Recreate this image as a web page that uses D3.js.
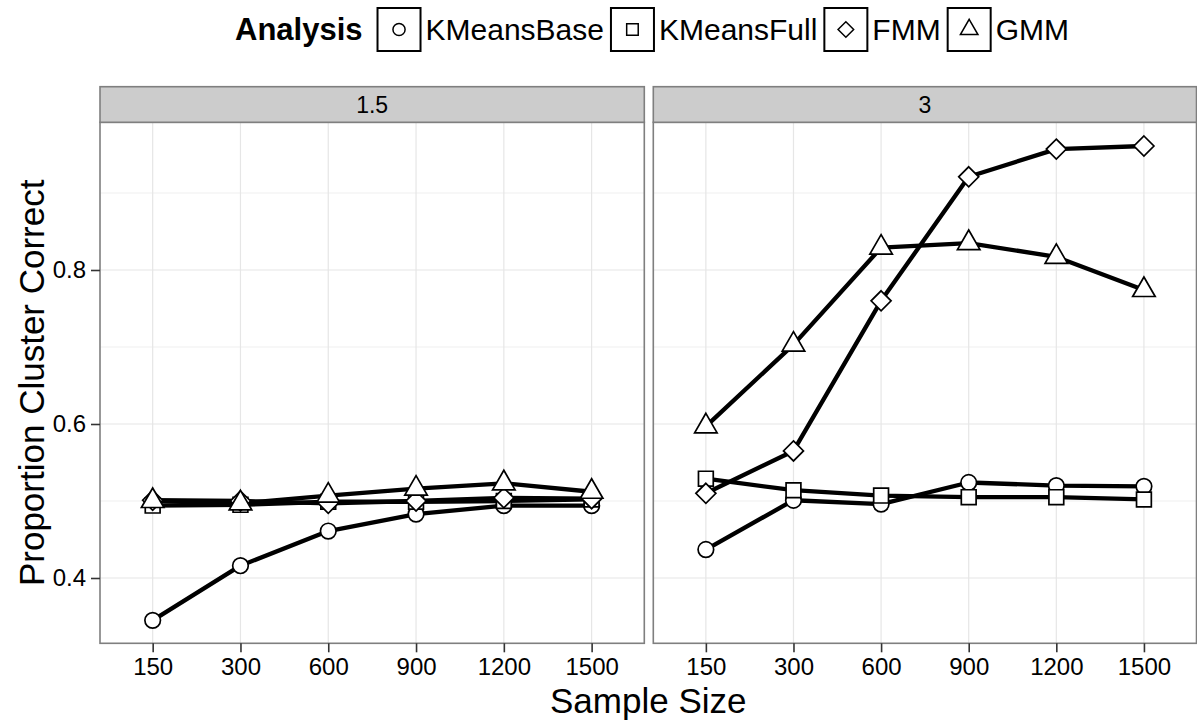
<!DOCTYPE html>
<html>
<head>
<meta charset="utf-8">
<script src="https://cdn.jsdelivr.net/npm/d3@7"></script>
<style>
  body { margin: 0; background: white; }
  svg { display: block; }
</style>
</head>
<body>
<div id="chart"></div>
<script>
var width = 1197;
var height = 723;

// data
var sampleSizes = ["150", "300", "600", "900", "1200", "1500"];
var facets = ["1.5", "3"];
var analyses = ["KMeansBase", "KMeansFull", "FMM", "GMM"];

var kmeansBase15 = [0.345, 0.416, 0.461, 0.483, 0.494, 0.494];
var kmeansFull15 = [0.494, 0.495, 0.499, 0.499, 0.500, 0.502];
var fmm15        = [0.501, 0.500, 0.497, 0.500, 0.504, 0.503];
var gmm15        = [0.500, 0.497, 0.507, 0.516, 0.523, 0.512];

var kmeansBase3 = [0.437, 0.501, 0.496, 0.524, 0.520, 0.519];
var kmeansFull3 = [0.529, 0.514, 0.507, 0.505, 0.505, 0.502];
var fmm3        = [0.510, 0.565, 0.760, 0.921, 0.957, 0.961];
var gmm3        = [0.597, 0.703, 0.829, 0.835, 0.817, 0.774];

var yTicks = [0.4, 0.6, 0.8];
var yMinor = [0.5, 0.7, 0.9];

var seriesByFacet = {
    "1.5": [kmeansBase15, kmeansFull15, fmm15, gmm15],
    "3": [kmeansBase3, kmeansFull3, fmm3, gmm3]
};

var font = "'Liberation Sans', Arial, Helvetica, sans-serif";

// panel layout
var panelTop = 122.3;
var panelBottom = 643.3;
var stripTop = 86.7;
var panels = [
    { facet: facets[0], x0: 100, x1: 644.3 },
    { facet: facets[1], x0: 653.3, x1: 1196.5 }
];

var y = d3.scaleLinear()
          .domain([0.3152, 0.9918])
          .range([panelBottom, panelTop]);

// marker paths (ggplot shapes 1, 0, 5, 2)
function shapePath(kind, s) {
    if (kind === "KMeansBase") {
        var r = 7.8 * s;
        return "M" + (-r) + ",0A" + r + "," + r + " 0 1,0 " + r + ",0A" + r + "," + r + " 0 1,0 " + (-r) + ",0Z";
    }
    if (kind === "KMeansFull") {
        var h = 7.4 * s;
        return "M" + (-h) + "," + (-h) + "H" + h + "V" + h + "H" + (-h) + "Z";
    }
    if (kind === "FMM") {
        var d = 10 * s;
        return "M0," + (-d) + "L" + d + ",0L0," + d + "L" + (-d) + ",0Z";
    }
    var side = 22.5 * s;
    var tr = side / Math.sqrt(3);
    return "M0," + (-tr) + "L" + (side / 2) + "," + (tr / 2) + "L" + (-side / 2) + "," + (tr / 2) + "Z";
}

var svg = d3.select("#chart")
            .append("svg")
            .attr("width", width)
            .attr("height", height)
            .style("font-family", font);

var lineGenerator = d3.line()
                      .x(d => d.x)
                      .y(d => d.y)
                      .curve(d3.curveLinear);

panels.forEach(function(p, pi) {
    var x = d3.scalePoint()
              .domain(sampleSizes)
              .range([p.x0, p.x1])
              .padding(0.6);

    var g = svg.append("g");

    // panel background
    g.append("rect")
        .attr("x", p.x0)
        .attr("y", panelTop)
        .attr("width", p.x1 - p.x0)
        .attr("height", panelBottom - panelTop)
        .attr("fill", "white");

    // minor grid
    g.selectAll(".minor")
        .data(yMinor)
        .enter()
        .append("line")
        .attr("x1", p.x0).attr("x2", p.x1)
        .attr("y1", d => y(d)).attr("y2", d => y(d))
        .attr("stroke", "#f5f5f5")
        .attr("stroke-width", 1.5);

    // major grid
    g.selectAll(".majorY")
        .data(yTicks)
        .enter()
        .append("line")
        .attr("x1", p.x0).attr("x2", p.x1)
        .attr("y1", d => y(d)).attr("y2", d => y(d))
        .attr("stroke", "#e6e6e6")
        .attr("stroke-width", 1.2);

    g.selectAll(".majorX")
        .data(sampleSizes)
        .enter()
        .append("line")
        .attr("x1", d => x(d)).attr("x2", d => x(d))
        .attr("y1", panelTop).attr("y2", panelBottom)
        .attr("stroke", "#e6e6e6")
        .attr("stroke-width", 1.2);

    var data = seriesByFacet[p.facet];

    // lines first, then points on top
    data.forEach(function(vals) {
        var pts = vals.map((v, i) => ({ x: x(sampleSizes[i]), y: y(v) }));
        g.append("path")
            .attr("d", lineGenerator(pts))
            .attr("fill", "none")
            .attr("stroke", "black")
            .attr("stroke-width", 4.3)
            .attr("stroke-linejoin", "round");
    });

    data.forEach(function(vals, si) {
        g.selectAll(".pt" + si)
            .data(vals)
            .enter()
            .append("path")
            .attr("transform", (v, i) => "translate(" + x(sampleSizes[i]) + "," + y(v) + ")")
            .attr("d", shapePath(analyses[si], 1))
            .attr("fill", "white")
            .attr("stroke", "black")
            .attr("stroke-width", 1.7);
    });

    // panel border
    g.append("rect")
        .attr("x", p.x0)
        .attr("y", panelTop)
        .attr("width", p.x1 - p.x0)
        .attr("height", panelBottom - panelTop)
        .attr("fill", "none")
        .attr("stroke", "#7f7f7f")
        .attr("stroke-width", 1.6);

    // strip
    g.append("rect")
        .attr("x", p.x0)
        .attr("y", stripTop)
        .attr("width", p.x1 - p.x0)
        .attr("height", panelTop - stripTop)
        .attr("fill", "#cccccc")
        .attr("stroke", "#7f7f7f")
        .attr("stroke-width", 1.6);

    g.append("text")
        .attr("x", (p.x0 + p.x1) / 2)
        .attr("y", (stripTop + panelTop) / 2)
        .attr("dy", "0.35em")
        .style("text-anchor", "middle")
        .style("font-size", "23px")
        .text(p.facet);

    // x axis
    var xAxis = d3.axisBottom(x).tickSize(9).tickPadding(6);
    var ax = svg.append("g")
        .attr("transform", "translate(0," + panelBottom + ")")
        .call(xAxis);
    ax.select(".domain").remove();
    ax.selectAll("line").attr("stroke", "#333").attr("stroke-width", 1.6);
    ax.selectAll("text")
        .style("font-family", font)
        .style("font-size", "24px")
        .attr("fill", "black");

    // y axis on the first panel only
    if (pi === 0) {
        var yAxis = d3.axisLeft(y)
                      .tickValues(yTicks)
                      .tickFormat(d3.format(".1f"))
                      .tickSize(9)
                      .tickPadding(5);
        var ay = svg.append("g")
            .attr("transform", "translate(" + p.x0 + ",0)")
            .call(yAxis);
        ay.select(".domain").remove();
        ay.selectAll("line").attr("stroke", "#333").attr("stroke-width", 1.6);
        ay.selectAll("text")
            .style("font-family", font)
            .style("font-size", "24px")
            .attr("fill", "black");
    }
});

// axis titles
svg.append("text")
    .attr("x", (panels[0].x0 + panels[1].x1) / 2)
    .attr("y", 713)
    .style("text-anchor", "middle")
    .style("font-size", "35px")
    .text("Sample Size");

svg.append("text")
    .attr("transform", "translate(44," + ((panelTop + panelBottom) / 2) + ") rotate(-90)")
    .style("text-anchor", "middle")
    .style("font-size", "35px")
    .text("Proportion Cluster Correct");

// legend on top, laid out from measured text widths
var legend = svg.append("g");
var legendY = 29.5;
var box = 43;
var cursor = 0;

var title = legend.append("text")
    .attr("x", cursor)
    .attr("y", legendY)
    .attr("dy", "0.35em")
    .style("font-size", "31px")
    .style("font-weight", "bold")
    .text("Analysis");
cursor += title.node().getComputedTextLength() + 15;

analyses.forEach(function(name) {
    legend.append("rect")
        .attr("x", cursor)
        .attr("y", legendY - box / 2)
        .attr("width", box)
        .attr("height", box)
        .attr("fill", "white")
        .attr("stroke", "black")
        .attr("stroke-width", 2);
    legend.append("path")
        .attr("transform", "translate(" + (cursor + box / 2) + "," + legendY + ")")
        .attr("d", shapePath(name, 0.78))
        .attr("fill", "white")
        .attr("stroke", "black")
        .attr("stroke-width", 1.5);
    cursor += box + 5;
    var t = legend.append("text")
        .attr("x", cursor)
        .attr("y", legendY)
        .attr("dy", "0.35em")
        .style("font-size", "30px")
        .text(name);
    cursor += t.node().getComputedTextLength() + 7;
});

var legendWidth = cursor - 7;
legend.attr("transform", "translate(" + (652 - legendWidth / 2) + ",0)");
</script>
</body>
</html>
